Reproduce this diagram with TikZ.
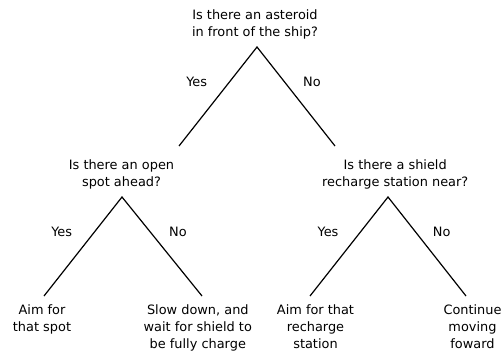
\documentclass[tikz,border=0pt]{standalone}
\usepackage{fontspec}
\setmainfont{DejaVu Sans}
\begin{document}
\begin{tikzpicture}[x=1pt,y=-1pt,
  txt/.style={align=center, inner sep=0pt, anchor=north, font=\fontsize{12.9}{17}\selectfont},
  lbl/.style={inner sep=0pt, anchor=base, font=\fontsize{12.9}{17}\selectfont},
  branch/.style={line width=1.2pt, black}]
\useasboundingbox (0,0) rectangle (502,350);
% questions
\node[txt] (q0) at (255,7.4) {\strut Is there an asteroid\\in front of the ship?};
\node[txt] (q1) at (121.5,157.3) {\strut Is there an open\\spot ahead?};
\node[txt] (q2) at (395.2,157.3) {\strut Is there a shield\\recharge station near?};
% leaves
\node[txt] (l1) at (42,302.2) {\strut Aim for\\that spot};
\node[txt] (l2) at (197.8,302.2) {\strut Slow down, and\\wait for shield to\\be fully charge};
\node[txt] (l3) at (315.5,302.2) {\strut Aim for that\\recharge\\station};
\node[txt] (l4) at (472.5,302.2) {\strut Continue\\moving\\foward};
% branch points
\coordinate (a0) at (257,47);
\coordinate (a0l) at (179,146);
\coordinate (a0r) at (335,146);
\coordinate (a1) at (122,197);
\coordinate (a1l) at (44,296);
\coordinate (a1r) at (202,296);
\coordinate (a2) at (388,197);
\coordinate (a2l) at (310,296);
\coordinate (a2r) at (466,296);
\draw[branch] (a0l) -- (a0) -- (a0r);
\draw[branch] (a1l) -- (a1) -- (a1r);
\draw[branch] (a2l) -- (a2) -- (a2r);
% labels
\node[lbl] (y0) at (196.7,86) {Yes};
\node[lbl] (n0) at (312,86) {No};
\node[lbl] (y1) at (61.7,236) {Yes};
\node[lbl] (n1) at (178,236) {No};
\node[lbl] (y2) at (328,236) {Yes};
\node[lbl] (n2) at (441.7,236) {No};
\end{tikzpicture}
\end{document}
